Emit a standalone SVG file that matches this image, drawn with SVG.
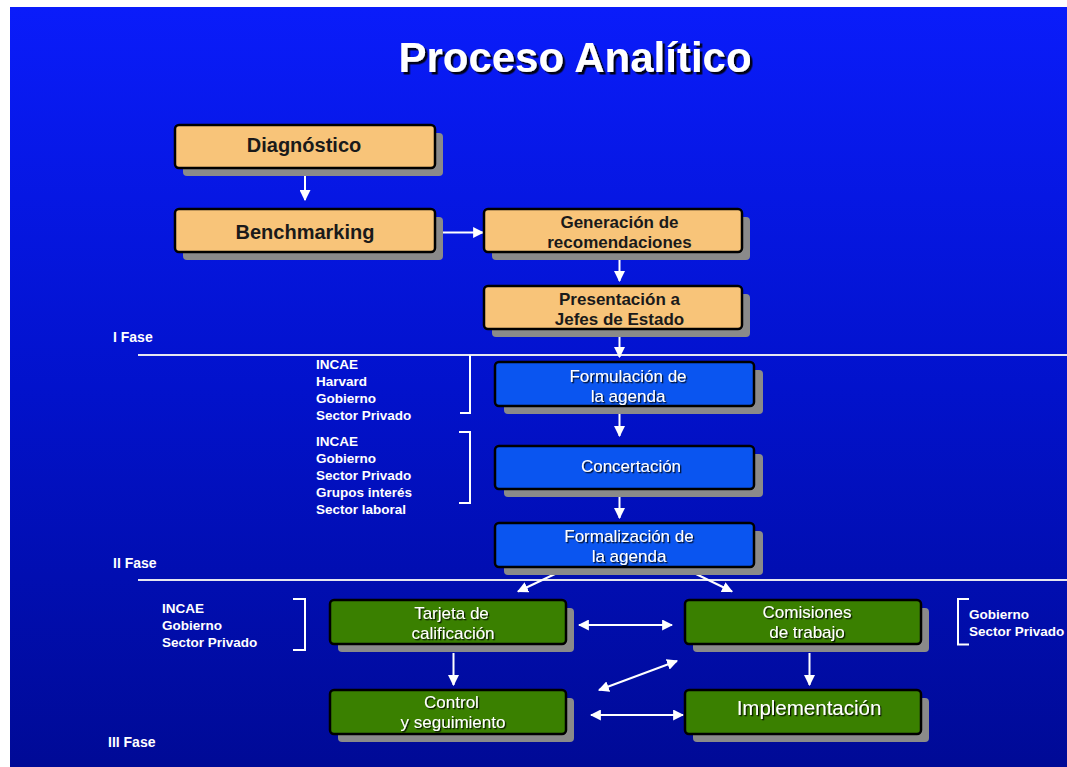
<svg xmlns="http://www.w3.org/2000/svg" width="1067" height="767" viewBox="0 0 1067 767">
<defs>
<linearGradient id="bg" x1="0" y1="0" x2="0" y2="1">
<stop offset="0" stop-color="#0a1cfa"/>
<stop offset="0.5" stop-color="#0212cc"/>
<stop offset="1" stop-color="#000a96"/>
</linearGradient>
<filter id="ts" x="-10%" y="-30%" width="130%" height="180%">
<feDropShadow dx="1.3" dy="1.3" stdDeviation="0.4" flood-color="#000" flood-opacity="0.85"/>
</filter>
<filter id="tts" x="-10%" y="-30%" width="130%" height="180%">
<feDropShadow dx="2.5" dy="2.5" stdDeviation="0.6" flood-color="#000" flood-opacity="0.9"/>
</filter>
<marker id="ah" viewBox="0 0 10 10" refX="9" refY="5" markerWidth="11" markerHeight="11" markerUnits="userSpaceOnUse" orient="auto-start-reverse">
<path d="M0,0 L10,5 L0,10 z" fill="#fff"/>
</marker>
</defs>
<style>
.shadow{fill:#8a8a8a}
.box{stroke:#000;stroke-width:2.5}
.or{fill:#f8c479}
.bl{fill:#0a55f0}
.gr{fill:#3a8000}
.t-or{font-family:"Liberation Sans",Arial,sans-serif;font-weight:bold;fill:#1a1a1a;text-anchor:middle}
.t-w{font-family:"Liberation Sans",Arial,sans-serif;fill:#fff;text-anchor:middle;font-size:17px;filter:url(#ts)}
.lbl{font-family:"Liberation Sans",Arial,sans-serif;font-weight:bold;fill:#fff;font-size:13.5px}
.fl{font-family:"Liberation Sans",Arial,sans-serif;font-weight:bold;fill:#fff;font-size:14px}
.conn line{stroke:#fff;stroke-width:2}
.brk{fill:none;stroke:#fff;stroke-width:2}
.fase{stroke:#e6e6f0;stroke-width:2}
</style>
<rect x="0" y="0" width="1067" height="767" fill="#fff"/>
<rect x="10" y="7" width="1057" height="760" fill="url(#bg)"/>
<text x="575" y="72" font-family="'Liberation Sans',Arial,sans-serif" font-weight="bold" font-size="42" fill="#fff" text-anchor="middle" filter="url(#tts)">Proceso Analítico</text>

<line class="fase" x1="138" y1="355" x2="1067" y2="355"/>
<line class="fase" x1="138" y1="580" x2="1067" y2="580"/>
<text class="fl" x="113" y="342">I Fase</text>
<text class="fl" x="113" y="568">II Fase</text>
<text class="fl" x="108" y="746.5">III Fase</text>

<g id="stakeholders">
<path class="brk" d="M460,413 H470 V355"/>
<text class="lbl" x="316" y="368.5">INCAE</text>
<text class="lbl" x="316" y="385.5">Harvard</text>
<text class="lbl" x="316" y="402.5">Gobierno</text>
<text class="lbl" x="316" y="419.5">Sector Privado</text>
<path class="brk" d="M459,432 H470 V503 H459"/>
<text class="lbl" x="316" y="445.5">INCAE</text>
<text class="lbl" x="316" y="462.5">Gobierno</text>
<text class="lbl" x="316" y="479.5">Sector Privado</text>
<text class="lbl" x="316" y="496.5">Grupos interés</text>
<text class="lbl" x="316" y="513.5">Sector laboral</text>
<path class="brk" d="M293,599 H305 V650 H293"/>
<text class="lbl" x="162" y="612.7">INCAE</text>
<text class="lbl" x="162" y="629.7">Gobierno</text>
<text class="lbl" x="162" y="646.7">Sector Privado</text>
<path class="brk" d="M969,599 H958 V644.5 H969"/>
<text class="lbl" x="969" y="618.5">Gobierno</text>
<text class="lbl" x="969" y="635.5">Sector Privado</text>
</g>

<g class="conn" id="connectors">
<line x1="305" y1="176" x2="305" y2="200" marker-end="url(#ah)"/>
<line x1="437" y1="232.5" x2="483" y2="232.5" marker-end="url(#ah)"/>
<line x1="619.5" y1="259" x2="619.5" y2="281" marker-end="url(#ah)"/>
<line x1="619.5" y1="337" x2="619.5" y2="357" marker-end="url(#ah)"/>
<line x1="619.5" y1="414" x2="619.5" y2="436" marker-end="url(#ah)"/>
<line x1="619.5" y1="497" x2="619.5" y2="518" marker-end="url(#ah)"/>
<line x1="555" y1="574" x2="518" y2="591.5" marker-end="url(#ah)"/>
<line x1="696" y1="574" x2="732" y2="591.5" marker-end="url(#ah)"/>
<line x1="579" y1="625" x2="672" y2="625" marker-start="url(#ah)" marker-end="url(#ah)"/>
<line x1="453.5" y1="653" x2="453.5" y2="685" marker-end="url(#ah)"/>
<line x1="809.5" y1="653" x2="809.5" y2="685" marker-end="url(#ah)"/>
<line x1="599" y1="690" x2="677" y2="661" marker-start="url(#ah)" marker-end="url(#ah)"/>
<line x1="591" y1="715" x2="683" y2="715" marker-start="url(#ah)" marker-end="url(#ah)"/>
</g>

<g id="diagnostico">
<rect class="shadow" x="183" y="133" width="260" height="43" rx="4"/>
<rect class="box or" x="175" y="125" width="260" height="43" rx="4"/>
<text class="t-or" x="304" y="152" font-size="20">Diagnóstico</text>
</g>
<g id="benchmarking">
<rect class="shadow" x="183" y="217" width="260" height="43" rx="4"/>
<rect class="box or" x="175" y="209" width="260" height="43" rx="4"/>
<text class="t-or" x="305" y="239" font-size="20">Benchmarking</text>
</g>
<g id="generacion">
<rect class="shadow" x="492" y="217" width="258" height="43" rx="4"/>
<rect class="box or" x="484" y="209" width="258" height="43" rx="4"/>
<text class="t-or" x="619.5" y="228.3" font-size="17">Generación de</text>
<text class="t-or" x="619.5" y="247.7" font-size="17">recomendaciones</text>
</g>
<g id="presentacion">
<rect class="shadow" x="492" y="294" width="258" height="43" rx="4"/>
<rect class="box or" x="484" y="286" width="258" height="43" rx="4"/>
<text class="t-or" x="619.5" y="305" font-size="17">Presentación a</text>
<text class="t-or" x="619.5" y="325" font-size="17">Jefes de Estado</text>
</g>

<g id="formulacion">
<rect class="shadow" x="504" y="370" width="259" height="44" rx="4"/>
<rect class="box bl" x="495" y="362" width="259" height="44" rx="4"/>
<text class="t-w" x="628" y="381.7">Formulación de</text>
<text class="t-w" x="628" y="401.7">la agenda</text>
</g>
<g id="concertacion">
<rect class="shadow" x="504" y="454" width="259" height="43" rx="4"/>
<rect class="box bl" x="495" y="446" width="259" height="43" rx="4"/>
<text class="t-w" x="631" y="471.7">Concertación</text>
</g>
<g id="formalizacion">
<rect class="shadow" x="504" y="531" width="259" height="44" rx="4"/>
<rect class="box bl" x="495" y="523" width="259" height="44" rx="4"/>
<text class="t-w" x="629" y="541.7">Formalización de</text>
<text class="t-w" x="629" y="562.3">la agenda</text>
</g>

<g id="tarjeta">
<rect class="shadow" x="338" y="608" width="236" height="44" rx="4"/>
<rect class="box gr" x="330" y="600" width="236" height="44" rx="4"/>
<text class="t-w" x="451.5" y="619">Tarjeta de</text>
<text class="t-w" x="453" y="638.7">calificación</text>
</g>
<g id="comisiones">
<rect class="shadow" x="693" y="608" width="236" height="44" rx="4"/>
<rect class="box gr" x="685" y="600" width="236" height="44" rx="4"/>
<text class="t-w" x="807" y="618.3">Comisiones</text>
<text class="t-w" x="807" y="637.7">de trabajo</text>
</g>
<g id="control">
<rect class="shadow" x="338" y="698" width="236" height="44" rx="4"/>
<rect class="box gr" x="330" y="690" width="236" height="44" rx="4"/>
<text class="t-w" x="451.5" y="708.3">Control</text>
<text class="t-w" x="453" y="728.3">y seguimiento</text>
</g>
<g id="implementacion">
<rect class="shadow" x="693" y="698" width="236" height="44" rx="4"/>
<rect class="box gr" x="685" y="690" width="236" height="44" rx="4"/>
<text class="t-w" x="809" y="715" style="font-size:20.5px">Implementación</text>
</g>
</svg>
